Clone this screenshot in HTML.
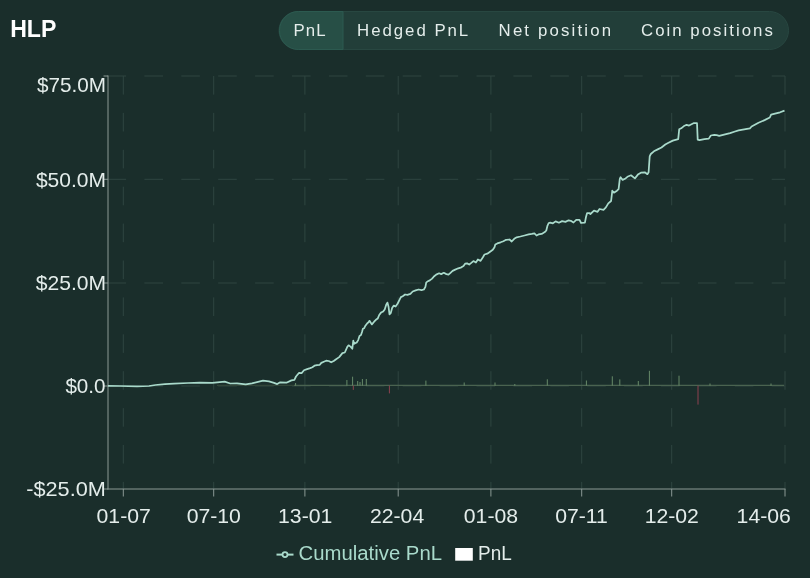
<!DOCTYPE html>
<html><head><meta charset="utf-8"><style>
html,body{margin:0;padding:0;background:#1a2e2b;width:810px;height:578px;overflow:hidden}
svg{position:absolute;left:0;top:0;font-family:"Liberation Sans",sans-serif}
svg{will-change:transform}
</style></head><body>
<svg width="810" height="578" viewBox="0 0 810 578">
<rect width="810" height="578" fill="#1a2e2b"/>
<rect x="279" y="11.5" width="509.5" height="38" rx="19" fill="#223e39" stroke="#284741" stroke-width="1"/>
<path d="M298.5,11.5 H343 V49.5 H298.5 A19,19 0 0 1 298.5,11.5 Z" fill="#274f46" stroke="#2c5a50" stroke-width="1"/>
<line x1="107.5" y1="76" x2="785" y2="76" stroke="#2f4541" stroke-width="1" stroke-dasharray="18.6 18.3"/>
<line x1="107.5" y1="179.3" x2="785" y2="179.3" stroke="#2f4541" stroke-width="1" stroke-dasharray="18.6 18.3"/>
<line x1="107.5" y1="283" x2="785" y2="283" stroke="#2f4541" stroke-width="1" stroke-dasharray="18.6 18.3"/>
<line x1="107.5" y1="386" x2="785" y2="386" stroke="#2f4541" stroke-width="1" stroke-dasharray="18.6 18.3"/>
<line x1="123.3" y1="76" x2="123.3" y2="489" stroke="#2f4541" stroke-width="1" stroke-dasharray="18.6 18.3"/>
<line x1="213.7" y1="76" x2="213.7" y2="489" stroke="#2f4541" stroke-width="1" stroke-dasharray="18.6 18.3"/>
<line x1="304.9" y1="76" x2="304.9" y2="489" stroke="#2f4541" stroke-width="1" stroke-dasharray="18.6 18.3"/>
<line x1="398.2" y1="76" x2="398.2" y2="489" stroke="#2f4541" stroke-width="1" stroke-dasharray="18.6 18.3"/>
<line x1="490.9" y1="76" x2="490.9" y2="489" stroke="#2f4541" stroke-width="1" stroke-dasharray="18.6 18.3"/>
<line x1="581.7" y1="76" x2="581.7" y2="489" stroke="#2f4541" stroke-width="1" stroke-dasharray="18.6 18.3"/>
<line x1="671.7" y1="76" x2="671.7" y2="489" stroke="#2f4541" stroke-width="1" stroke-dasharray="18.6 18.3"/>
<line x1="785" y1="76" x2="785" y2="489" stroke="#2f4541" stroke-width="1" stroke-dasharray="18.6 18.3"/>
<line x1="108" y1="75.5" x2="108" y2="489.5" stroke="#8b9995" stroke-width="1"/>
<line x1="107.5" y1="489" x2="785.5" y2="489" stroke="#8b9995" stroke-width="1"/>
<line x1="103.5" y1="76" x2="108" y2="76" stroke="#8b9995" stroke-width="1"/>
<line x1="103.5" y1="179.3" x2="108" y2="179.3" stroke="#8b9995" stroke-width="1"/>
<line x1="103.5" y1="283" x2="108" y2="283" stroke="#8b9995" stroke-width="1"/>
<line x1="103.5" y1="386" x2="108" y2="386" stroke="#8b9995" stroke-width="1"/>
<line x1="103.5" y1="489" x2="108" y2="489" stroke="#8b9995" stroke-width="1"/>
<line x1="123.3" y1="489" x2="123.3" y2="496.5" stroke="#8b9995" stroke-width="1"/>
<line x1="213.7" y1="489" x2="213.7" y2="496.5" stroke="#8b9995" stroke-width="1"/>
<line x1="304.9" y1="489" x2="304.9" y2="496.5" stroke="#8b9995" stroke-width="1"/>
<line x1="398.2" y1="489" x2="398.2" y2="496.5" stroke="#8b9995" stroke-width="1"/>
<line x1="490.9" y1="489" x2="490.9" y2="496.5" stroke="#8b9995" stroke-width="1"/>
<line x1="581.7" y1="489" x2="581.7" y2="496.5" stroke="#8b9995" stroke-width="1"/>
<line x1="671.7" y1="489" x2="671.7" y2="496.5" stroke="#8b9995" stroke-width="1"/>
<line x1="785" y1="489" x2="785" y2="496.5" stroke="#8b9995" stroke-width="1"/>
<line x1="217" y1="385.4" x2="294" y2="385.4" stroke="#324639" stroke-width="1.2"/>
<line x1="294" y1="385.4" x2="784" y2="385.4" stroke="#4a6350" stroke-width="1.2"/>
<line x1="295.6" y1="385.6" x2="295.6" y2="383" stroke="#6f9470" stroke-width="0.9"/>
<line x1="346.9" y1="385.6" x2="346.9" y2="380" stroke="#6f9470" stroke-width="0.9"/>
<line x1="352.6" y1="385.6" x2="352.6" y2="376.7" stroke="#6f9470" stroke-width="0.9"/>
<line x1="357.7" y1="385.6" x2="357.7" y2="381" stroke="#6f9470" stroke-width="0.9"/>
<line x1="360" y1="385.6" x2="360" y2="382" stroke="#6f9470" stroke-width="0.9"/>
<line x1="362.4" y1="385.6" x2="362.4" y2="379" stroke="#6f9470" stroke-width="0.9"/>
<line x1="366.3" y1="385.6" x2="366.3" y2="379" stroke="#6f9470" stroke-width="0.9"/>
<line x1="425.9" y1="385.6" x2="425.9" y2="380.6" stroke="#6f9470" stroke-width="0.9"/>
<line x1="464.2" y1="385.6" x2="464.2" y2="382.5" stroke="#6f9470" stroke-width="0.9"/>
<line x1="495" y1="385.6" x2="495" y2="382.5" stroke="#6f9470" stroke-width="0.9"/>
<line x1="514.8" y1="385.6" x2="514.8" y2="384" stroke="#6f9470" stroke-width="0.9"/>
<line x1="547.3" y1="385.6" x2="547.3" y2="379.3" stroke="#6f9470" stroke-width="0.9"/>
<line x1="586.4" y1="385.6" x2="586.4" y2="380.5" stroke="#6f9470" stroke-width="0.9"/>
<line x1="612.3" y1="385.6" x2="612.3" y2="376.3" stroke="#6f9470" stroke-width="0.9"/>
<line x1="619.8" y1="385.6" x2="619.8" y2="379.4" stroke="#6f9470" stroke-width="0.9"/>
<line x1="638.3" y1="385.6" x2="638.3" y2="381" stroke="#6f9470" stroke-width="0.9"/>
<line x1="649.4" y1="385.6" x2="649.4" y2="370.8" stroke="#6f9470" stroke-width="0.9"/>
<line x1="679" y1="385.6" x2="679" y2="375.7" stroke="#6f9470" stroke-width="0.9"/>
<line x1="710" y1="385.6" x2="710" y2="383.5" stroke="#6f9470" stroke-width="0.9"/>
<line x1="771" y1="385.6" x2="771" y2="383.5" stroke="#6f9470" stroke-width="0.9"/>
<line x1="353.3" y1="385.6" x2="353.3" y2="389.9" stroke="#8d4150" stroke-width="1"/>
<line x1="389.4" y1="385.6" x2="389.4" y2="393.4" stroke="#8d4150" stroke-width="1"/>
<line x1="698" y1="385.6" x2="698" y2="404.6" stroke="#8d4150" stroke-width="1"/>
<path d="M108,385.8 L120,386.0 L137,386.3 L149,386.0 L155.5,385 L165,384.2 L174,383.6 L188,383.0 L200,382.7 L212.3,382.9 L224.7,381.7 L230.2,383.5 L237,383.3 L245.7,384.4 L251.9,383.3 L263,380.7 L269,381.4 L274,382.9 L277.2,384.1 L280.2,382.3 L286.4,382.7 L291.4,380.4 L294.4,379.8 L296,376.5 L299.1,372.8 L301.6,373.1 L304,370.3 L307.1,369.1 L310.2,368.1 L312.4,367.2 L314.5,365.7 L317,365.1 L319.8,364.8 L321.3,362.9 L323.8,361.7 L326.2,360.7 L328.7,361 L331.2,362.3 L333.7,361 L336.1,359.2 L339.2,357.1 L342.4,353.1 L344.8,352.5 L347.3,346.9 L348.6,345.3 L350.5,346.6 L352.3,348.8 L353.3,340.7 L354.2,343.8 L356.7,342.5 L358.2,340.1 L359.5,336 L361,335.1 L362,332 L362.9,328.8 L364.2,328.2 L365.4,325.7 L367.3,323.2 L368.5,322.3 L369.5,320.8 L371.9,324.4 L374.1,321.7 L375.9,319.8 L377.7,318.6 L379.2,315 L381,312.6 L383.2,311.4 L384.7,309.5 L386.2,304.7 L387.4,302.6 L388.6,307.1 L389.5,314.4 L390.7,313.2 L392.2,307.7 L393.8,305.6 L395.6,306.5 L397.7,303.5 L399.5,299.8 L400.9,297.1 L402.7,296.2 L405.1,294.5 L407.4,294.8 L410.4,293.9 L412.7,291.5 L415.6,290.4 L418.6,289.5 L421.5,290.1 L423.9,289.5 L425.4,286.8 L426.2,282.7 L427.4,281.5 L429.8,280.4 L432.1,278.6 L433.9,276.5 L436.2,274.6 L439.1,273.3 L441.2,274.1 L443.8,272.8 L446.4,274.1 L448.5,274.6 L450.5,272.8 L452.6,270.9 L455.2,269.6 L458.3,268.3 L461.4,267.3 L463.5,266 L465.1,263.7 L467.1,263.4 L469.2,264.5 L471.3,262.9 L473.4,261.1 L475.9,262.5 L477.9,259.5 L480.6,260.9 L482.9,257.3 L484.5,254.5 L487.3,253.7 L490.1,251.7 L492.8,249.8 L494.5,247.3 L495.3,244.5 L497.3,243.4 L500.6,242.3 L503.4,241.2 L506.1,239.8 L509.5,239.5 L511.7,241.5 L514.2,238.8 L516.7,237.3 L520.4,236.5 L524.5,235.5 L528.7,234.4 L531.8,233.9 L534.4,233.4 L536.5,235.5 L538.5,234.4 L541.7,233.9 L544.8,232.1 L546.3,230.5 L547.4,225.9 L548.7,223 L550.2,222.7 L552.9,223.3 L555.6,221.4 L558.9,222.7 L562.1,221.1 L565.4,221.9 L568.6,220.3 L570.8,220.8 L573.5,222.5 L576.2,219.8 L579.5,219.8 L581.1,223 L584.9,222.7 L586,217 L587.1,213 L589.3,213 L590.4,214 L594,210.6 L597.6,211.8 L599.5,209 L603.5,209.8 L605.9,207.4 L608.3,203.4 L611.1,201 L612.3,190.7 L613.9,192.7 L617,190.7 L618.6,189.1 L619.8,178.8 L620.6,177.2 L622.6,179.9 L625,178.8 L627.4,176.8 L631,175.3 L634.9,178.4 L637.9,174.6 L640.9,172.7 L644.8,172.3 L647.4,174.2 L648.6,172.3 L649.7,156.3 L650.8,154 L653.9,151.3 L657.7,149.4 L661.5,147.5 L665.3,144.5 L668,143 L672.8,140.6 L678.2,139.1 L679.2,129.3 L681.2,128.3 L683.6,126.3 L686.6,124.8 L689.1,125.6 L691.5,124.3 L694,123 L697,123 L697.7,139.6 L699.4,140.1 L704.4,139.1 L708.8,138.6 L710.8,135.5 L714.3,134.9 L716.7,135.2 L719.2,135.9 L724.1,134.7 L730.1,133.2 L735,131.5 L738.6,130.4 L749.9,128.3 L751.6,126.5 L758.5,122.7 L764.6,120.1 L769.8,117.5 L771.1,114.7 L775,113.6 L780.1,112.3 L784.5,110.6" fill="none" stroke="#a9dacb" stroke-width="1.75" stroke-linejoin="round"/>
<line x1="276.5" y1="554.6" x2="293.5" y2="554.6" stroke="#a9dacb" stroke-width="2"/>
<circle cx="285" cy="554.6" r="2.5" fill="#1a2e2b" stroke="#a9dacb" stroke-width="1.8"/>
<rect x="455.2" y="548" width="17.6" height="12.7" fill="#ffffff"/>
<text transform="translate(10.14 36.6) scale(0.9630 1)" font-size="24" font-weight="bold" fill="#ffffff">HLP</text>
<text x="293.50" y="36.1" letter-spacing="1.100" font-size="16.8" font-weight="normal" fill="#e4edeb">PnL</text>
<text x="357.10" y="36.1" letter-spacing="1.978" font-size="16.8" font-weight="normal" fill="#e4edeb">Hedged PnL</text>
<text x="498.60" y="36.1" letter-spacing="2.164" font-size="16.8" font-weight="normal" fill="#e4edeb">Net position</text>
<text x="641.00" y="36.1" letter-spacing="2.031" font-size="16.8" font-weight="normal" fill="#e4edeb">Coin positions</text>
<text transform="translate(36.90 91.9) scale(1.0354 1)" font-size="20" font-weight="normal" fill="#e4edeb">$75.0M</text>
<text transform="translate(35.90 186.7) scale(1.0508 1)" font-size="20" font-weight="normal" fill="#e4edeb">$50.0M</text>
<text transform="translate(35.80 289.9) scale(1.0554 1)" font-size="20" font-weight="normal" fill="#e4edeb">$25.0M</text>
<text transform="translate(65.40 393.1) scale(1.0316 1)" font-size="20" font-weight="normal" fill="#e4edeb">$0.0</text>
<text transform="translate(26.21 496.1) scale(1.0859 1)" font-size="20" font-weight="normal" fill="#e4edeb">-$25.0M</text>
<text transform="translate(96.53 523.1) scale(1.0614 1)" font-size="20" font-weight="normal" fill="#e4edeb">01-07</text>
<text transform="translate(186.65 523.1) scale(1.0614 1)" font-size="20" font-weight="normal" fill="#e4edeb">07-10</text>
<text transform="translate(278.03 523.1) scale(1.0614 1)" font-size="20" font-weight="normal" fill="#e4edeb">13-01</text>
<text transform="translate(369.95 523.1) scale(1.0614 1)" font-size="20" font-weight="normal" fill="#e4edeb">22-04</text>
<text transform="translate(463.78 523.1) scale(1.0614 1)" font-size="20" font-weight="normal" fill="#e4edeb">01-08</text>
<text transform="translate(555.16 523.1) scale(1.0614 1)" font-size="20" font-weight="normal" fill="#e4edeb">07-11</text>
<text transform="translate(644.63 523.1) scale(1.0614 1)" font-size="20" font-weight="normal" fill="#e4edeb">12-02</text>
<text transform="translate(736.58 523.1) scale(1.0614 1)" font-size="20" font-weight="normal" fill="#e4edeb">14-06</text>
<text transform="translate(298.58 560.2) scale(1.0164 1)" font-size="20" font-weight="normal" fill="#a9dacb">Cumulative PnL</text>
<text transform="translate(478.05 560.0) scale(0.9471 1)" font-size="20" font-weight="normal" fill="#e4edeb">PnL</text>
</svg>
</body></html>
